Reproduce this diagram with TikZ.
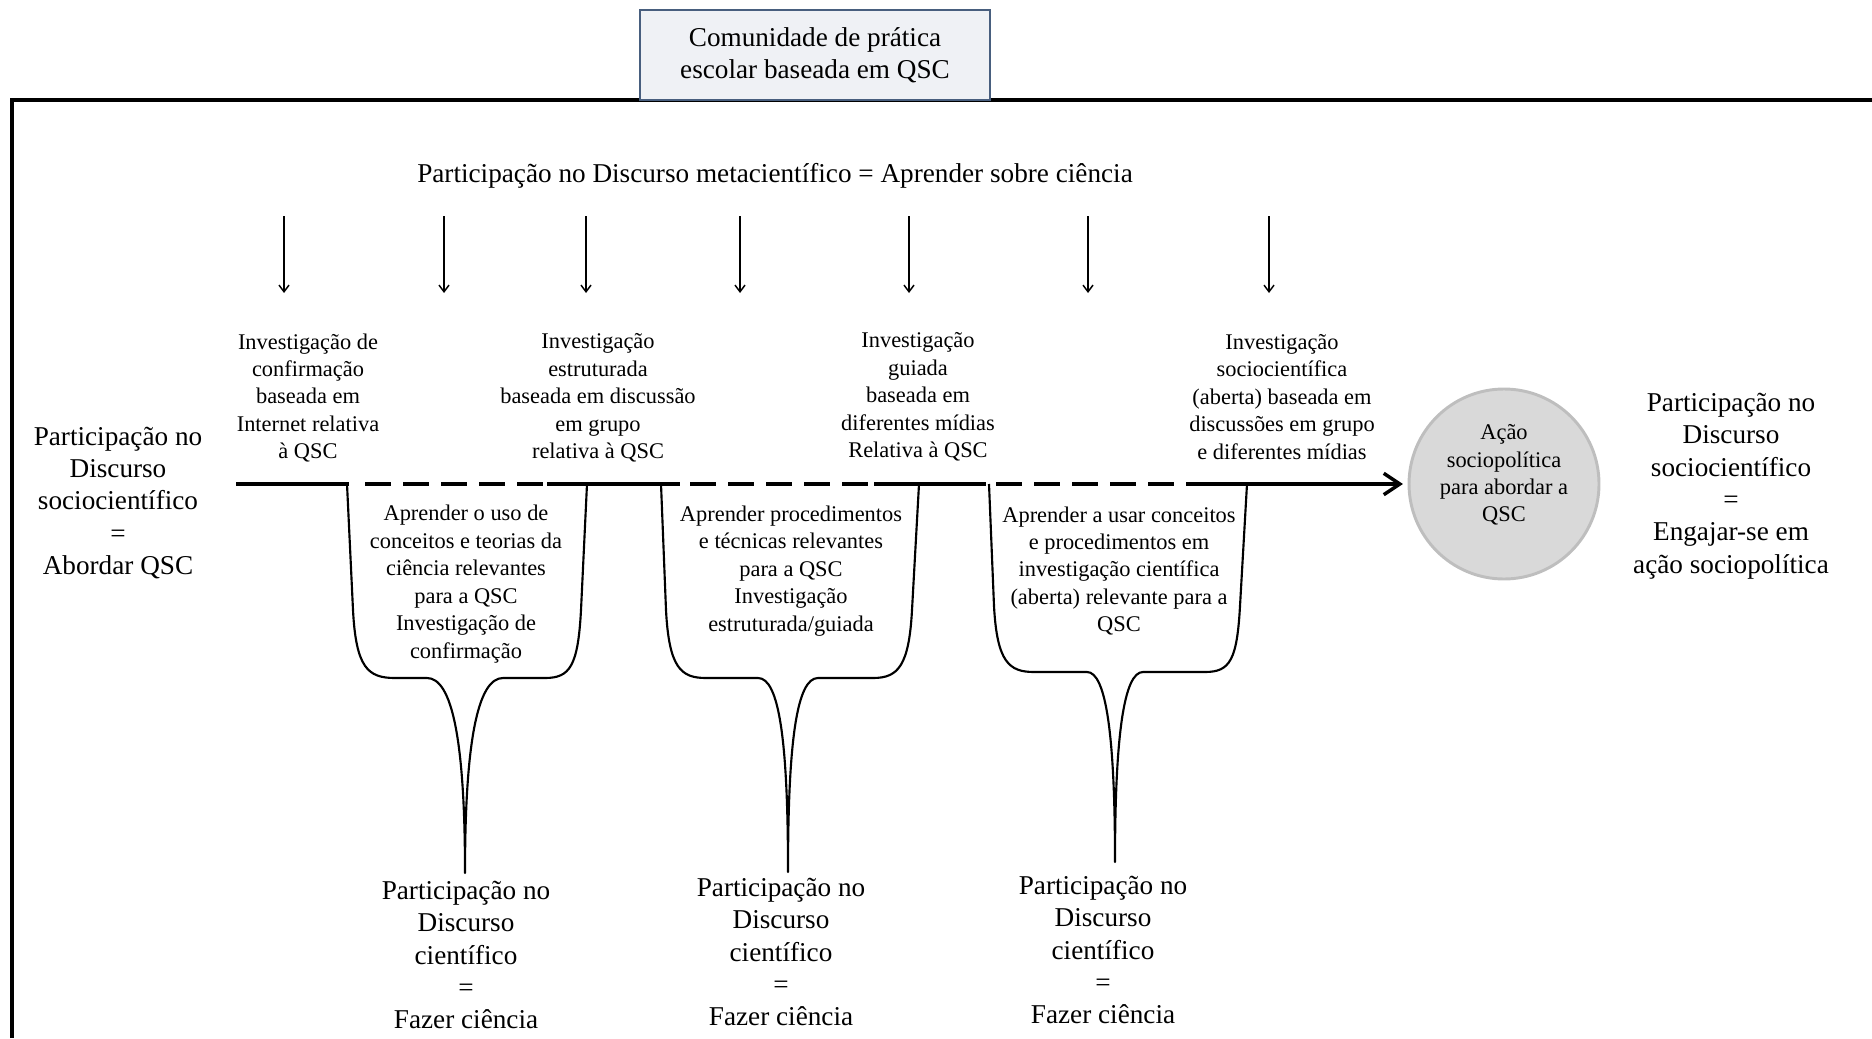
\documentclass[tikz,border=0pt]{standalone}
\usepackage{fontspec}
\setmainfont{Liberation Serif}
\usetikzlibrary{arrows.meta}

\definecolor{boxfill}{RGB}{239,241,245}
\definecolor{boxline}{RGB}{72,94,126}
\definecolor{acaofill}{RGB}{217,217,217}
\definecolor{acaoline}{RGB}{190,190,190}

\tikzset{every picture/.style={line width=0.75pt},
  bigtxt/.style={inner sep=0.75pt, align=center, font=\fontsize{20.4}{24.3}\selectfont},
  smalltxt/.style={inner sep=0.75pt, align=center, font=\fontsize{16.8}{20.6}\selectfont},
  mainline/.style={line width=2.6pt},
  dashline/.style={line width=2.6pt, dash pattern=on 19.5pt off 9pt},
  funnel/.style={line width=1.6pt, line join=round},
  downarr/.style={line width=1.1pt, -{Straight Barb[length=5pt,width=7.5pt]}}
}

\begin{document}
\begin{tikzpicture}[x=0.75pt,y=0.75pt,yscale=-1,xscale=1]
\useasboundingbox (0,0) rectangle (1872,1038);

%Shape: Frame
\draw [line width=3pt]  (12,1038) -- (12,100) -- (1872,100) ;
%Shape: Title box
\draw (815,55) node (title) [bigtxt, draw=boxline, fill=boxfill, line width=2.2pt, minimum width=262.5pt, minimum height=67.5pt] {Comunidade de prática\\escolar baseada em QSC};

% Text Node
\draw (775,176) node (meta) [bigtxt] {Participação no Discurso metacientífico = Aprender sobre ciência};

%Straight Lines
\draw [downarr]  (284,216) -- (284,293) ;
%Straight Lines
\draw [downarr]  (444,216) -- (444,293) ;
%Straight Lines
\draw [downarr]  (586,216) -- (586,293) ;
%Straight Lines
\draw [downarr]  (740,216) -- (740,293) ;
%Straight Lines
\draw [downarr]  (909,216) -- (909,293) ;
%Straight Lines
\draw [downarr]  (1088,216) -- (1088,293) ;
%Straight Lines
\draw [downarr]  (1269,216) -- (1269,293) ;

% Text Node
\draw (308,398) node (lblconf) [smalltxt] {Investigação de\\confirmação\\baseada em\\Internet relativa\\à QSC};
% Text Node
\draw (598,398) node (lblestr) [smalltxt] {Investigação\\estruturada\\baseada em discussão\\em grupo\\relativa à QSC};
% Text Node
\draw (918,397) node (lblguia) [smalltxt] {Investigação\\guiada\\baseada em\\diferentes mídias\\Relativa à QSC};
% Text Node
\draw (1282,397) node (lblaberta) [smalltxt] {Investigação\\sociocientífica\\(aberta) baseada em\\discussões em grupo\\e diferentes mídias};

% Text Node
\draw (118,503) node (leftTxt) [bigtxt] {Participação no\\Discurso\\sociocientífico\\=\\Abordar QSC};
% Text Node
\draw (1731,486) node (rightTxt) [bigtxt] {Participação no\\Discurso\\sociocientífico\\=\\Engajar-se em\\ação sociopolítica};

%Shape: Circle
\draw (1504,484) node (acao) [circle, draw=acaoline, fill=acaofill, line width=2.2pt, minimum size=142.5pt, inner sep=0pt] {};
% Text Node
\draw (1504,475) node (acaoTxt) [smalltxt] {Ação\\sociopolítica\\para abordar a\\QSC};

%Straight Lines
\draw [mainline]  (236,484) -- (349,484) ;
\draw [dashline]  (365,484) -- (543,484) ;
\draw [mainline]  (547,484) -- (680,484) ;
\draw [dashline]  (690,484) -- (870,484) ;
\draw [mainline]  (874,484) -- (986,484) ;
\draw [dashline]  (996,484) -- (1176,484) ;
\draw [mainline, -{Straight Barb[length=12pt,width=16pt]}, shorten >=3.5pt]  (1186,484) -- (acao) ;

%Shape: Funnel
\draw [funnel]  (347,484) -- (353,610) .. controls (356,668) and (368,678) .. (395,678) -- (427,678) .. controls (452,678) and (465,740) .. (465,873) .. controls (465,740) and (478,678) .. (503,678) -- (545,678) .. controls (570,678) and (578,666) .. (581,610) -- (587,484) ;
%Shape: Funnel
\draw [funnel]  (661,484) -- (666,610) .. controls (669,668) and (681,678) .. (706,678) -- (758,678) .. controls (779,678) and (788,740) .. (788,872) .. controls (788,740) and (797,678) .. (818,678) -- (873,678) .. controls (898,678) and (909,666) .. (912,610) -- (919,484) ;
%Shape: Funnel
\draw [funnel]  (989,484) -- (994,606) .. controls (997,662) and (1009,672) .. (1034,672) -- (1087,672) .. controls (1106,672) and (1115,735) .. (1115,862) .. controls (1115,735) and (1124,672) .. (1143,672) -- (1205,672) .. controls (1230,672) and (1237,660) .. (1240,606) -- (1247,484) ;

% Text Node
\draw (466,584) node (fnlconc) [smalltxt] {Aprender o uso de\\conceitos e teorias da\\ciência relevantes\\para a QSC\\Investigação de\\confirmação};
% Text Node
\draw (791,571) node (fnlproc) [smalltxt] {Aprender procedimentos\\e técnicas relevantes\\para a QSC\\Investigação\\estruturada/guiada};
% Text Node
\draw (1119,571) node (fnlinv) [smalltxt] {Aprender a usar conceitos\\e procedimentos em\\investigação científica\\(aberta) relevante para a\\QSC};

% Text Node
\draw (466,955) node (dsc1) [bigtxt] {Participação no\\Discurso\\científico\\=\\Fazer ciência};
% Text Node
\draw (781,952) node (dsc2) [bigtxt] {Participação no\\Discurso\\científico\\=\\Fazer ciência};
% Text Node
\draw (1103,950) node (dsc3) [bigtxt] {Participação no\\Discurso\\científico\\=\\Fazer ciência};

\end{tikzpicture}
\end{document}
